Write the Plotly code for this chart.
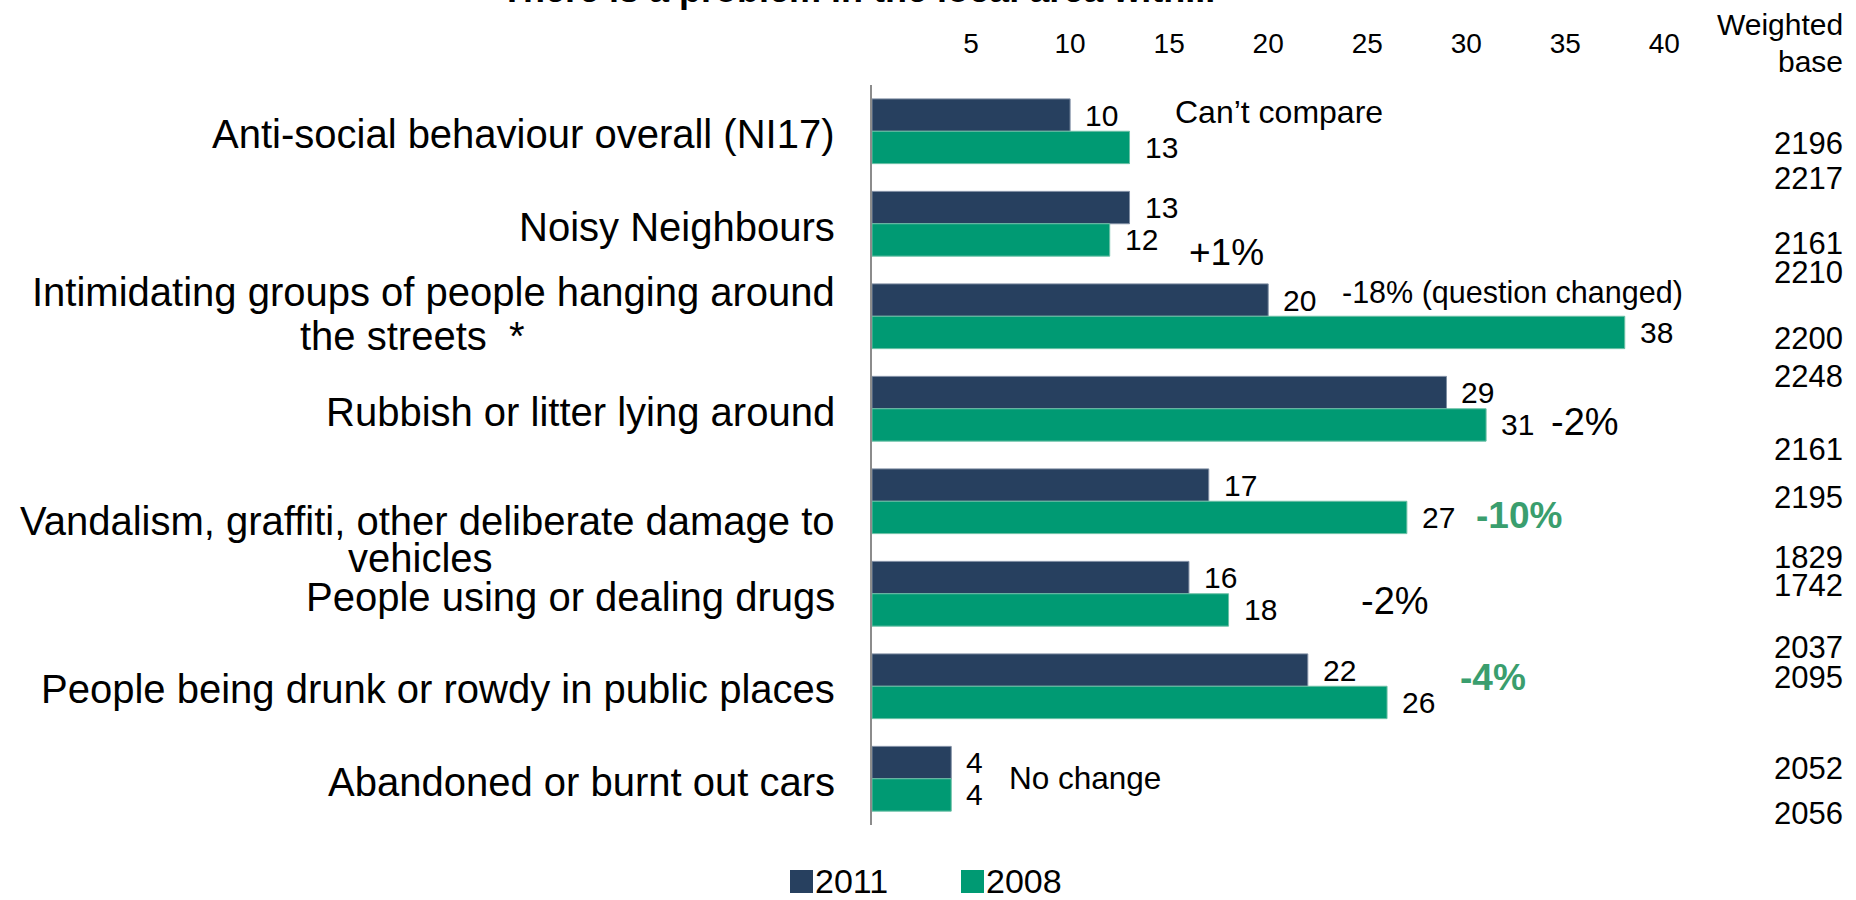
import plotly.graph_objects as go

# ---- data -------------------------------------------------------------
categories = [
    "Anti-social behaviour overall (NI17)",
    "Noisy Neighbours",
    "Intimidating groups of people hanging around<br>the streets  *",
    "Rubbish or litter lying around",
    "Vandalism, graffiti, other deliberate damage to<br>vehicles",
    "People using or dealing drugs",
    "People being drunk or rowdy in public places",
    "Abandoned or burnt out cars",
]
values_2011 = [10, 13, 20, 29, 17, 16, 22, 4]
values_2008 = [13, 12, 38, 31, 27, 18, 26, 4]
change_notes = ["Can\u2019t compare", "+1%", "-18% (question changed)", "-2%",
                "-10%", "-2%", "-4%", "No change"]
weighted_base = [2196, 2217, 2161, 2210, 2200, 2248, 2161, 2195,
                 1829, 1742, 2037, 2095, 2052, 2056]
tick_values = [5, 10, 15, 20, 25, 30, 35, 40]
series_names = ["2011", "2008"]

# ---- styling / layout -------------------------------------------------
NAVY = "#27405F"
GREEN = "#009A73"
NOTE_GREEN = "#3A9E6E"
FONT = "Liberation Sans, Arial, sans-serif"

W, H = 1856, 900
L, R, T, B = 872, 152, 85, 75
plot_w = W - L - R
plot_h = H - T - B
X_MAX = 42


def px_to_paper_x(px):
    return (px - L) / plot_w


def px_to_paper_y(py):
    return (H - B - py) / plot_h


fig = go.Figure()
fig.add_trace(go.Bar(y=categories, x=values_2011, orientation="h",
                     name=series_names[0], marker_color=NAVY,
                     marker_line=dict(color="#7f8ea3", width=1)))
fig.add_trace(go.Bar(y=categories, x=values_2008, orientation="h",
                     name=series_names[1], marker_color=GREEN,
                     marker_line=dict(color="#6cc0a6", width=1)))

annotations = []

# category labels, one annotation per line to keep the line spacing tight
CAT_SIZE = 40
label_shift = {  # (yshift of each line, centre of the wrapped line in px)
    2: ([24, -20], 412),
    4: ([-20, -57], 420),
}
for i, cat in enumerate(categories):
    lines = cat.split("<br>")
    if len(lines) == 1:
        annotations.append(dict(x=0, xref="paper", y=i, yref="y", text=lines[0],
                                xanchor="right", yanchor="middle", xshift=-35, yshift=-3,
                                showarrow=False, font=dict(family=FONT, size=CAT_SIZE, color="#000")))
    else:
        shifts, centre_px = label_shift[i]
        annotations.append(dict(x=0, xref="paper", y=i, yref="y", text=lines[0],
                                xanchor="right", yanchor="middle", xshift=-35, yshift=shifts[0],
                                showarrow=False, font=dict(family=FONT, size=CAT_SIZE, color="#000")))
        annotations.append(dict(x=px_to_paper_x(centre_px), xref="paper", y=i, yref="y",
                                text=lines[1], xanchor="center", yanchor="middle",
                                yshift=shifts[1], showarrow=False,
                                font=dict(family=FONT, size=CAT_SIZE, color="#000")))

# value labels at the end of each bar
BAR_OFF = 0.175
for i in range(len(categories)):
    annotations.append(dict(x=values_2011[i], y=i - BAR_OFF, xref="x", yref="y",
                            text=str(values_2011[i]), xanchor="left", yanchor="middle",
                            xshift=13, showarrow=False,
                            font=dict(family=FONT, size=30, color="#000")))
    annotations.append(dict(x=values_2008[i], y=i + BAR_OFF, xref="x", yref="y",
                            text=str(values_2008[i]), xanchor="left", yanchor="middle",
                            xshift=13, showarrow=False,
                            font=dict(family=FONT, size=30, color="#000")))

# change notes beside each pair
note_x = [15.2, 15.9, 23.6, 34.2, 30.4, 24.6, 29.6, 6.8]
note_y = [-0.21, 1.31, 1.74, 3.14, 4.15, 5.08, 5.9, 6.99]
note_size = [32, 37, 30.5, 38, 37, 38, 37, 31.5]
note_bold = [False, False, False, False, True, False, True, False]
for i, note in enumerate(change_notes):
    txt = f"<b>{note}</b>" if note_bold[i] else note
    annotations.append(dict(x=note_x[i], y=note_y[i], xref="x", yref="y", text=txt,
                            xanchor="left", yanchor="middle", showarrow=False,
                            font=dict(family=FONT, size=note_size[i],
                                      color=NOTE_GREEN if note_bold[i] else "#000")))

# weighted base column
base_px_y = [143, 178, 243, 272, 338, 376, 450, 497, 557, 585, 647, 677, 768, 813]
for val, py in zip(weighted_base, base_px_y):
    annotations.append(dict(x=px_to_paper_x(1845), y=px_to_paper_y(py), xref="paper", yref="paper",
                            text=str(val), xanchor="right", yanchor="middle", showarrow=False,
                            font=dict(family=FONT, size=31, color="#000")))
for txt, py in [("Weighted", 24), ("base", 61)]:
    annotations.append(dict(x=px_to_paper_x(1845), y=px_to_paper_y(py), xref="paper", yref="paper",
                            text=txt, xanchor="right", yanchor="middle", showarrow=False,
                            font=dict(family=FONT, size=30, color="#000")))

# title (runs off the top edge)
annotations.append(dict(x=px_to_paper_x(858), y=px_to_paper_y(12), xref="paper", yref="paper",
                        text="<b>There is a problem in the local area with...</b>",
                        xanchor="center", yanchor="bottom", showarrow=False,
                        font=dict(family=FONT, size=36, color="#000")))

# legend
shapes = []
legend_items = [(series_names[0], NAVY, 790), (series_names[1], GREEN, 961)]
for name, col, px in legend_items:
    shapes.append(dict(type="rect", xref="paper", yref="paper",
                       x0=px_to_paper_x(px), x1=px_to_paper_x(px + 23),
                       y0=px_to_paper_y(893), y1=px_to_paper_y(870),
                       fillcolor=col, line=dict(width=0)))
    annotations.append(dict(x=px_to_paper_x(px + 23), y=px_to_paper_y(881), xref="paper", yref="paper",
                            text=name, xanchor="left", yanchor="middle", showarrow=False,
                            font=dict(family=FONT, size=34, color="#000")))

fig.update_layout(
    width=W, height=H,
    margin=dict(l=L, r=R, t=T, b=B, pad=0),
    paper_bgcolor="white", plot_bgcolor="white",
    barmode="group", bargap=0.3, bargroupgap=0,
    showlegend=False,
    annotations=annotations, shapes=shapes,
    xaxis=dict(range=[0, X_MAX], side="top", tickvals=tick_values,
               ticktext=[str(t) for t in tick_values], showgrid=False, zeroline=False,
               showline=False, ticks="", ticklabelstandoff=25,
               tickfont=dict(family=FONT, size=28, color="#000")),
    yaxis=dict(autorange="reversed", showticklabels=False, showgrid=False,
               zeroline=False, showline=True, linecolor="#8c8c8c", linewidth=2, ticks=""),
)

fig.write_html("out.html")
